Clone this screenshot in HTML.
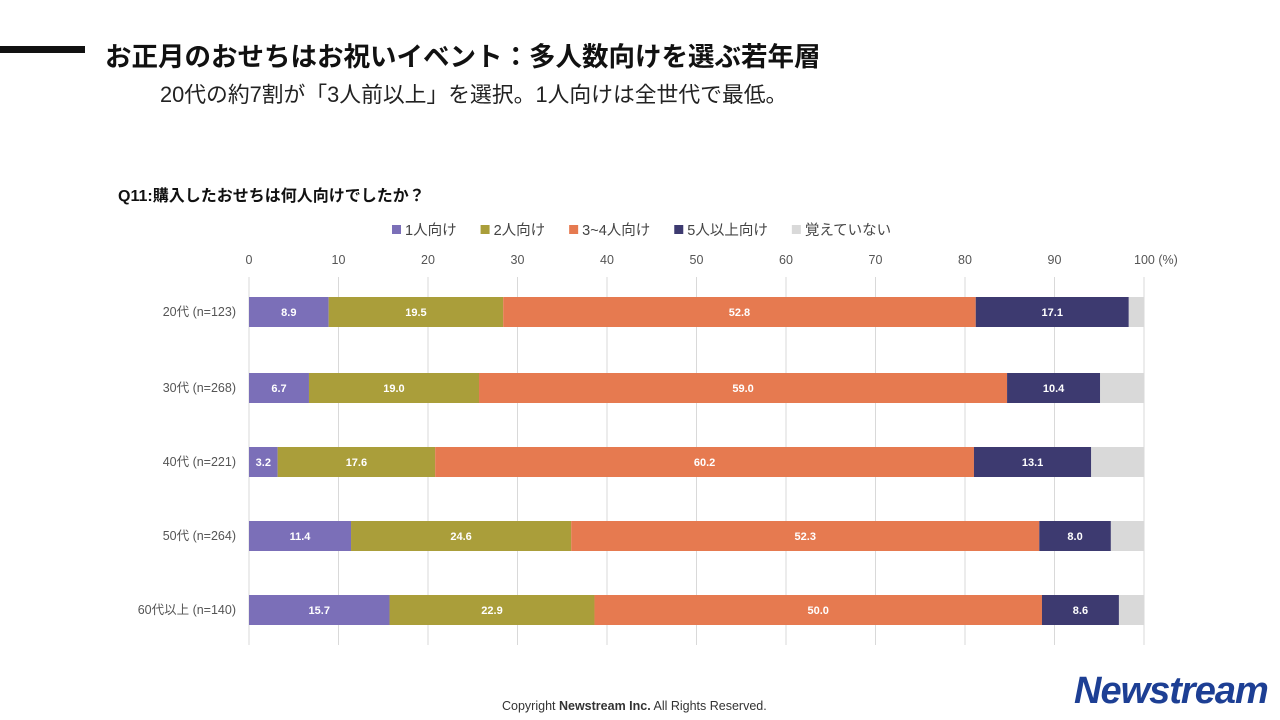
<!DOCTYPE html>
<html><head><meta charset="utf-8"><style>
body{margin:0;width:1280px;height:720px;background:#fff;font-family:"Liberation Sans","Noto Sans CJK JP",sans-serif;position:relative;overflow:hidden}
.abs{position:absolute;white-space:nowrap}
</style></head><body>
<div class="abs" style="left:0;top:46px;width:85px;height:7px;background:#111"></div>
<div class="abs" style="left:105px;top:35px;font-size:26.5px;font-weight:bold;color:#111">お正月のおせちはお祝いイベント：多人数向けを選ぶ若年層</div>
<div class="abs" style="left:160px;top:78px;font-size:21.8px;color:#222">20代の約7割が「3人前以上」を選択。1人向けは全世代で最低。</div>
<div class="abs" style="left:118px;top:182px;font-size:16px;font-weight:bold;color:#111">Q11:購入したおせちは何人向けでしたか？</div>
<svg class="abs" style="left:0;top:0" width="1280" height="720" id="chart"></svg>
<div class="abs" style="left:502px;top:699px;font-size:12.5px;color:#333">Copyright <b>Newstream Inc.</b> All Rights Reserved.</div>
<div class="abs" style="left:1074px;top:670px;font-size:38px;font-weight:bold;font-style:italic;color:#1d3f94;letter-spacing:-1px">Newstream</div>
<script>
const categories=["20代 (n=123)","30代 (n=268)","40代 (n=221)","50代 (n=264)","60代以上 (n=140)"];
const seriesNames=["1人向け","2人向け","3~4人向け","5人以上向け","覚えていない"];
const s1=[8.9,6.7,3.2,11.4,15.7];
const s2=[19.5,19.0,17.6,24.6,22.9];
const s3=[52.8,59.0,60.2,52.3,50.0];
const s4=[17.1,10.4,13.1,8.0,8.6];
const s5=[1.7,4.9,5.9,3.7,2.8];
const ticks=[0,10,20,30,40,50,60,70,80,90,100];
const colors=["#7b6fb8","#aa9e3a","#e67a50","#3d3a70","#d9d9d9"];
const svg=document.getElementById('chart');const NS="http://www.w3.org/2000/svg";
const x=v=>249+v*8.95;
const rowY=[297,373,447,521,595],bh=30;
const y=i=>rowY[i];
function mk(t,a){const e=document.createElementNS(NS,t);for(const k in a)e.setAttribute(k,a[k]);svg.appendChild(e);return e;}
ticks.forEach(t=>{const l=mk('line',{x1:x(t),x2:x(t),y1:277,y2:645,stroke:'#d9d9d9','stroke-width':1});


const tx=mk('text',{x:x(t),y:264,'text-anchor':'middle','font-size':12.5,fill:'#555'});tx.textContent=t===100?'100 (%)':t;
if(t===100){tx.setAttribute('text-anchor','start');tx.setAttribute('x',x(t)-10);}

});
const all=[s1,s2,s3,s4,s5];
categories.forEach((c,i)=>{let acc=0;
const lb=mk('text',{x:236,y:y(i)+bh/2+4,'text-anchor':'end','font-size':12.5,fill:'#555'});lb.textContent=c;


all.forEach((s,j)=>{const v=s[i];const r=mk('rect',{x:x(acc),y:y(i),width:x(acc+v)-x(acc),height:bh,fill:colors[j]});


if(j<4){const t=mk('text',{x:(x(acc)+x(acc+v))/2,y:y(i)+bh/2+4,'text-anchor':'middle','font-size':11,'font-weight':'bold',fill:'#fff'});t.textContent=v.toFixed(1);

}
acc+=v;});});
let lx=392;
seriesNames.forEach((n,j)=>{const r=mk('rect',{x:lx,y:225,width:9,height:9,fill:colors[j]});


const t=mk('text',{x:lx+13,y:235,'font-size':14.5,fill:'#444'});t.textContent=n;


lx+=13+t.getComputedTextLength()+24;});
</script>
</body></html>
